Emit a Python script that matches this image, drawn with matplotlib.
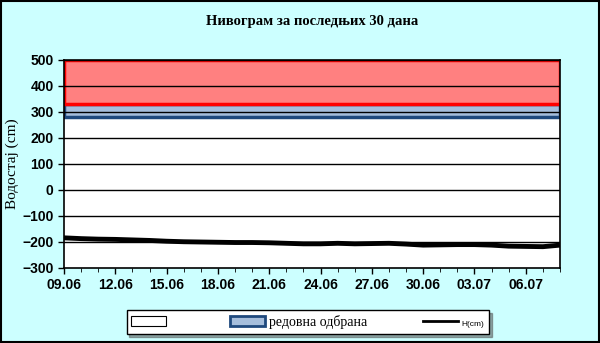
import matplotlib
matplotlib.use("Agg")
import matplotlib.pyplot as plt
import matplotlib.patches as mpatches
from matplotlib.lines import Line2D
import numpy as np

# data
date_labels = ["09.06", "12.06", "15.06", "18.06", "21.06", "24.06",
               "27.06", "30.06", "03.07", "06.07"]
level_cm = [-184, -187, -189, -190, -192, -194, -197, -199, -200, -201,
            -202, -202, -203, -205, -207, -207, -205, -207, -206, -205,
            -208, -212, -211, -210, -210, -212, -216, -217, -218, -212]
regular_defence = [280, 330]   # редовна одбрана
extraordinary = [330, 500]
y_ticks = [-300, -200, -100, 0, 100, 200, 300, 400, 500]

days = np.arange(len(level_cm))

fig = plt.figure(figsize=(6, 3.43), dpi=100, facecolor="#CCFFFF")
ax = fig.add_axes([64 / 600, 1 - 268 / 343, 496 / 600, 208 / 343])
ax.set_facecolor("white")

ax.set_xlim(0, 29)
ax.set_ylim(-300, 500)

# bands
ax.axhspan(regular_defence[0], regular_defence[1], facecolor="#A6BEDC",
           edgecolor="#1F497D", linewidth=2.5, zorder=1)
ax.axhspan(extraordinary[0], extraordinary[1], facecolor="#FF8080",
           edgecolor="#FF0000", linewidth=2.5, zorder=1)

for yv in y_ticks[1:]:
    ax.axhline(yv, color="black", linewidth=1, zorder=2)

ax.plot(days, level_cm, color="black", linewidth=3.5, zorder=3,
        solid_capstyle="butt")

ax.set_yticks(y_ticks)
ax.set_xticks(np.arange(0, 28, 3))
ax.set_xticklabels(date_labels)
ax.set_xticks(np.arange(0, 30, 1), minor=True)
ax.tick_params(axis="both", labelsize=10, width=1, length=4, direction="out")
ax.tick_params(axis="x", which="minor", length=3)
for lbl in ax.get_xticklabels() + ax.get_yticklabels():
    lbl.set_fontweight("bold")
    lbl.set_family("Liberation Sans")
for s in ax.spines.values():
    s.set_linewidth(1.2)
    s.set_zorder(4)

ax.set_ylabel("Водостај (cm)", family="Liberation Serif", fontsize=11,
              labelpad=2)

fig.text(0.52, 1 - 22 / 343, "Нивограм за последњих 30 дана",
         ha="center", va="center", family="Liberation Serif",
         fontweight="bold", fontsize=10.5)

handles = [
    mpatches.Patch(facecolor="white", edgecolor="black", linewidth=0.8),
    mpatches.Patch(facecolor="#A6BEDC", edgecolor="#1F497D", linewidth=2),
    Line2D([], [], color="black", linewidth=2),
]
leg = fig.legend(handles, [" ", "редовна одбрана", "H(cm)"], ncol=3,
                 loc="center", bbox_to_anchor=(308 / 600, 1 - 322 / 343),
                 frameon=True, fancybox=False, shadow=True,
                 edgecolor="black", facecolor="white", columnspacing=4.0,
                 handlelength=2.5, handletextpad=0.3,
                 borderpad=0.35)
texts = leg.get_texts()
texts[1].set_family("Liberation Serif")
texts[1].set_fontsize(10)
texts[2].set_family("Liberation Sans")
texts[2].set_fontsize(6)
leg.get_frame().set_linewidth(1)

fig.patches.append(mpatches.Rectangle((0.001, 0.002), 0.997, 0.996,
                                      transform=fig.transFigure, fill=False,
                                      edgecolor="black", linewidth=1.5))

fig.savefig("out.png", dpi=100, facecolor=fig.get_facecolor())
